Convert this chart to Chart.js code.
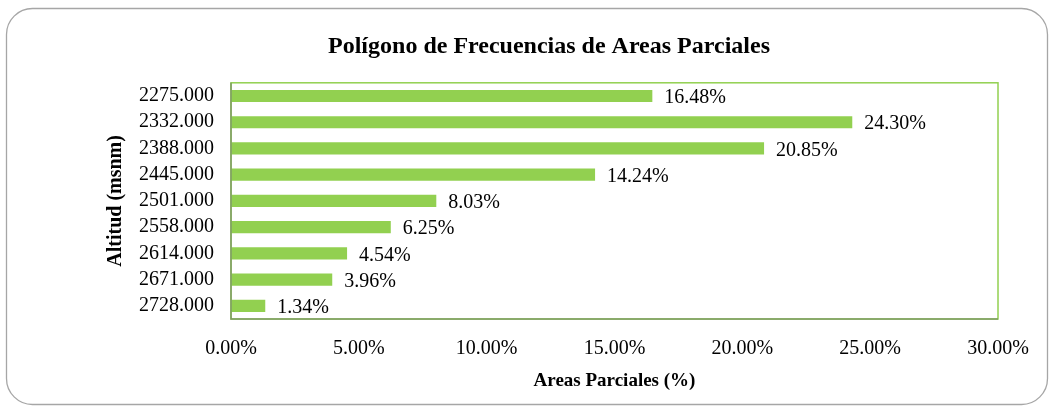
<!DOCTYPE html>
<html>
<head>
<meta charset="utf-8">
<script src="https://cdn.jsdelivr.net/npm/chart.js@4"></script>
<style>
  html, body { margin: 0; padding: 0; background: #fff; }
  #wrap { width: 1054px; height: 412px; }
</style>
</head>
<body>
<div id="wrap"><canvas id="areasChart" width="1054" height="412"></canvas></div>
<script>
// alturas (msnm) y porcentaje de area parcial
const altitudes = ['2275.000', '2332.000', '2388.000', '2445.000', '2501.000', '2558.000', '2614.000', '2671.000', '2728.000'];
const areasParciales = [16.48, 24.30, 20.85, 14.24, 8.03, 6.25, 4.54, 3.96, 1.34];
const xTicks = [0, 5, 10, 15, 20, 25, 30];

const serif = "'Liberation Serif', 'Times New Roman', serif";

// marco redondeado exterior + borde del area de trazado
const frame = {
	id: 'frame',
	beforeDraw(chart) {
		const c = chart.ctx;
		c.save();
		c.fillStyle = '#fff';
		c.fillRect(0, 0, chart.width, chart.height);
		c.strokeStyle = '#a6a6a6';
		c.lineWidth = 1.3;
		c.beginPath();
		c.roundRect(6.5, 8.5, 1041, 396, 26);
		c.stroke();
		c.restore();
	},
	afterDatasetsDraw(chart) {
		const c = chart.ctx;
		const a = chart.chartArea;
		c.save();
		c.lineWidth = 1.5;
		c.strokeStyle = '#92d050';
		c.strokeRect(a.left, a.top, a.right - a.left, a.bottom - a.top);
		c.strokeStyle = '#7f9a65';
		c.beginPath();
		c.moveTo(a.left, a.top);
		c.lineTo(a.left, a.bottom);
		c.lineTo(a.right, a.bottom);
		c.stroke();
		// etiquetas de datos
		const meta = chart.getDatasetMeta(0);
		c.fillStyle = '#000';
		c.font = '20px ' + serif;
		c.textBaseline = 'middle';
		meta.data.forEach((bar, i) => {
			c.fillText(areasParciales[i].toFixed(2) + '%', bar.x + 12, bar.y + 2);
		});
		c.restore();
	}
};

new Chart(document.getElementById('areasChart'), {
	type: 'bar',
	data: {
		labels: altitudes,
		datasets: [{
			data: areasParciales,
			backgroundColor: '#92d050',
			borderWidth: 0,
			categoryPercentage: 1,
			barPercentage: 0.46
		}]
	},
	options: {
		indexAxis: 'y',
		responsive: false,
		animation: false,
		layout: { padding: { left: 100, right: 56, top: 24, bottom: 12 } },
		plugins: {
			legend: { display: false },
			tooltip: { enabled: false },
			title: {
				display: true,
				text: 'Polígono de Frecuencias de Areas Parciales',
				color: '#000',
				font: { family: serif, size: 24, weight: 'bold' },
				padding: { top: 8, bottom: 22 }
			}
		},
		scales: {
			x: {
				min: 0,
				max: 30,
				afterBuildTicks(scale) { scale.ticks = xTicks.map(v => ({ value: v })); },
				afterFit(scale) { scale.height = 81; },
				grid: { display: false, drawTicks: false },
				border: { display: false },
				ticks: {
					color: '#000',
					padding: 18,
					autoSkip: false,
					font: { family: serif, size: 20 },
					callback: v => v.toFixed(2) + '%'
				},
				title: {
					display: true,
					text: 'Areas Parciales (%)',
					color: '#000',
					font: { family: serif, size: 19, weight: 'bold' },
					padding: { top: 4, bottom: 8 }
				}
			},
			y: {
				afterFit(scale) { scale.width = 131; },
				grid: { display: false, drawTicks: false },
				border: { display: false },
				ticks: {
					color: '#000',
					padding: 17,
					autoSkip: false,
					font: { family: serif, size: 20 }
				},
				title: {
					display: true,
					text: 'Altitud (msnm)',
					color: '#000',
					font: { family: serif, size: 20, weight: 'bold' },
					padding: { top: 4, bottom: 4 }
				}
			}
		}
	},
	plugins: [frame]
});
</script>
</body>
</html>
